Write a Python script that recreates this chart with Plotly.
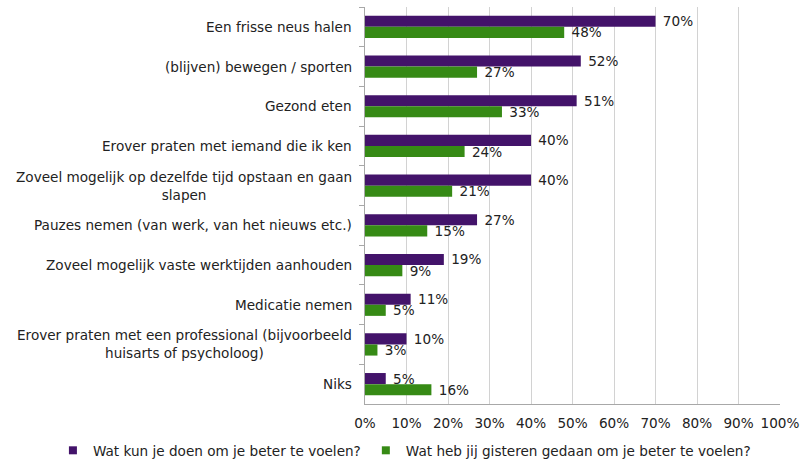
import plotly.graph_objects as go

categories = [
    "Een frisse neus halen",
    "(blijven) bewegen / sporten",
    "Gezond eten",
    "Erover praten met iemand die ik ken",
    "Zoveel mogelijk op dezelfde tijd opstaan en gaan<br>slapen",
    "Pauzes nemen (van werk, van het nieuws etc.)",
    "Zoveel mogelijk vaste werktijden aanhouden",
    "Medicatie nemen",
    "Erover praten met een professional (bijvoorbeeld<br>huisarts of psycholoog)",
    "Niks",
]
series_names = ["Wat kun je doen om je beter te voelen?", "Wat heb jij gisteren gedaan om je beter te voelen?"]
kun_values = [70, 52, 51, 40, 40, 27, 19, 11, 10, 5]
gedaan_values = [48, 27, 33, 24, 21, 15, 9, 5, 3, 16]
x_ticks = [0, 10, 20, 30, 40, 50, 60, 70, 80, 90, 100]

purple = "#43136a"
green = "#368a15"
font_family = "DejaVu Sans, Verdana, sans-serif"
txt_color = "#222222"
fs = 13.6

fig = go.Figure()
for name, vals, col in [(series_names[0], kun_values, purple), (series_names[1], gedaan_values, green)]:
    fig.add_trace(go.Bar(
        y=categories, x=vals, name=name, orientation="h",
        marker=dict(color=col, line=dict(width=0)),
        text=[f"\u00a0{v}%" for v in vals], textposition="outside",
        constraintext="none",
        textfont=dict(family=font_family, size=fs, color=txt_color),
        cliponaxis=False, showlegend=False,
    ))
    # legend-only entry with a small square symbol
    fig.add_trace(go.Scatter(
        x=[None], y=[None], mode="markers", name=name,
        marker=dict(symbol="square", size=8, color=col),
        showlegend=True,
    ))

for c in categories:
    fig.add_annotation(
        x=0, xref="paper", y=c, yref="y", text=c, showarrow=False,
        xanchor="right", align="center", xshift=-11,
        font=dict(family=font_family, size=fs, color=txt_color),
    )

fig.update_layout(
    width=803, height=460,
    margin=dict(l=365, r=23, t=7, b=56, autoexpand=False),
    paper_bgcolor="white", plot_bgcolor="white",
    barmode="group", bargap=0.44, bargroupgap=0,
    font=dict(family=font_family, size=fs, color=txt_color),
    showlegend=True,
    legend=dict(
        orientation="h", xref="paper", x=-0.752, xanchor="left",
        yref="paper", y=-0.078, yanchor="top",
        bgcolor="rgba(0,0,0,0)",
        font=dict(family=font_family, size=fs, color=txt_color),
        itemwidth=30, traceorder="normal",
    ),
)
fig.update_xaxes(
    range=[0, 100], tickvals=x_ticks, ticktext=[f"{t}%" for t in x_ticks],
    showgrid=True, gridcolor="#d2d2d2", gridwidth=1,
    showline=True, linecolor="#a8a8a8", linewidth=1,
    ticks="", zeroline=False, automargin=False, ticklabelstandoff=7,
    tickfont=dict(family=font_family, size=fs, color=txt_color),
)
fig.update_yaxes(
    autorange="reversed", showticklabels=False, automargin=False,
    showline=True, linecolor="#a8a8a8", linewidth=1,
    ticks="outside", tickson="boundaries", ticklen=5, tickcolor="#a8a8a8",
    showgrid=False,
)

fig.write_html("out.html", config={"displayModeBar": False},
               post_script="document.body.style.margin='0';")
